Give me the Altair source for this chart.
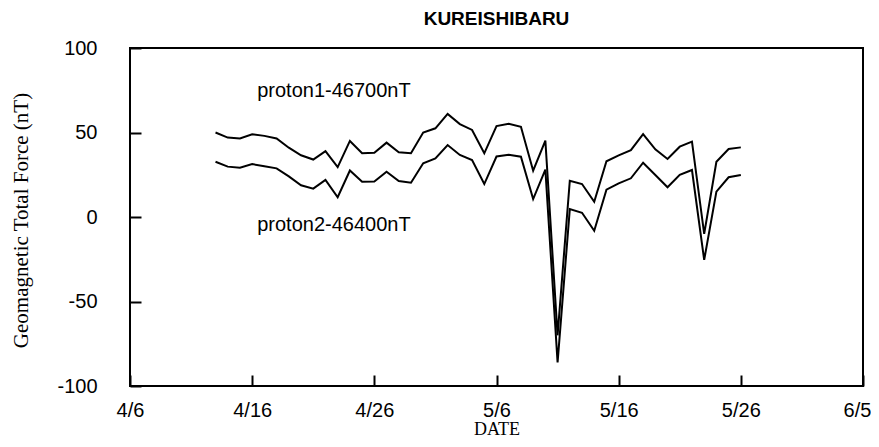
import altair as alt
import pandas as pd

YEAR = 1995

dates = ["4/13", "4/14", "4/15", "4/16", "4/17", "4/18", "4/19", "4/20", "4/21", "4/22",
         "4/23", "4/24", "4/25", "4/26", "4/27", "4/28", "4/29", "4/30",
         "5/1", "5/2", "5/3", "5/4", "5/5", "5/6", "5/7", "5/8", "5/9", "5/10",
         "5/11", "5/12", "5/13", "5/14", "5/15", "5/16", "5/17", "5/18", "5/19", "5/20",
         "5/21", "5/22", "5/23", "5/24", "5/25", "5/26"]

proton1 = [50, 47, 46.5, 49, 48, 46.5, 41, 36.5, 34, 39,
           29.5, 45, 37.7, 38, 44, 38.3, 37.7, 50,
           52.5, 61, 55, 51.5, 37.7, 53.8, 55.2, 53.4, 27.4, 45.2,
           -70, 21.5, 19.5, 9, 33, 36.5, 39.6, 49, 40, 34.3,
           41.6, 44.6, -10, 32.7, 40.2, 41.2]

proton2 = [32.7, 29.8, 29.2, 31.3, 30, 28.8, 24, 18.8, 16.8, 22,
           11.7, 27.5, 20.9, 21, 26.8, 21.3, 20.3, 31.8,
           34.7, 42.6, 36.7, 33.7, 19.5, 35.8, 36.8, 35.7, 10.6, 28,
           -86, 4.7, 2.5, -8.1, 16.2, 19.9, 22.9, 32.1, 24.9, 17.6,
           24.9, 27.8, -25.4, 15, 23.5, 24.9]

series_names = ["proton1", "proton2"]
tick_dates = ["4/6", "4/16", "4/26", "5/6", "5/16", "5/26", "6/5"]
y_ticks = [-100, -50, 0, 50, 100]

label_texts = ["proton1-46700nT", "proton2-46400nT"]
label_dates = ["4/16", "4/16"]
label_values = [71, -8]

W, H = 733, 338


def iso(md):
    m, d = md.split("/")
    return f"{YEAR}-{int(m):02d}-{int(d):02d}"


def dt(md):
    m, d = md.split("/")
    return alt.DateTime(year=YEAR, month=int(m), date=int(d), utc=True)


df = pd.DataFrame({
    "date": [iso(d) for d in dates] * 2,
    "value": proton1 + proton2,
    "series": [series_names[0]] * len(dates) + [series_names[1]] * len(dates),
})

ann = pd.DataFrame({
    "date": [iso(d) for d in label_dates],
    "value": label_values,
    "text": label_texts,
})

x_vals = [dt(t) for t in tick_dates]
xscale = alt.Scale(type="utc", domain=[dt(tick_dates[0]), dt(tick_dates[-1])])
yscale = alt.Scale(domain=[y_ticks[0], y_ticks[-1]])

SANS = "Liberation Sans"
SERIF = "Liberation Serif"

last_label_test = "datum.label == '" + tick_dates[-1] + "'"

lines = alt.Chart(df).mark_line(color="black", strokeWidth=2).encode(
    x=alt.X("date:T", scale=xscale, axis=alt.Axis(
        orient="bottom", values=x_vals, format="%-m/%-d", ticks=False, domain=False,
        grid=False, labelFlush=False, labelFont=SANS, labelFontSize=20,
        labelColor="black", labelPadding=14,
        labelOffset={"condition": {"test": last_label_test, "value": -6}, "value": 0},
        title="DATE", titleFont=SERIF, titleFontSize=18, titleFontWeight="normal",
        titleColor="black", titleBaseline="alphabetic", titleAlign="center",
        titleX=W / 2, titleY=48)),
    y=alt.Y("value:Q", scale=yscale, axis=alt.Axis(
        orient="left", values=y_ticks, ticks=False, domain=False, grid=False,
        labelExpr="toString(datum.value)",
        labelFont=SANS, labelFontSize=20, labelColor="black", labelPadding=33,
        title="Geomagnetic Total Force (nT)", titleFont=SERIF, titleFontSize=21,
        titleFontWeight="normal", titleColor="black", titleAngle=270,
        titleAlign="center", titleBaseline="middle", titleX=-109, titleY=172)),
    detail="series:N",
)

tick_layer = alt.Chart(df).mark_line(opacity=0).encode(
    x=alt.X("date:T", scale=xscale, axis=alt.Axis(
        orient="top", offset=-H, values=x_vals, labels=False, domain=False,
        grid=False, ticks=True, tickSize=11, tickWidth=2, tickColor="black",
        title=None)),
    y=alt.Y("value:Q", scale=yscale, axis=alt.Axis(
        orient="right", offset=-W, values=y_ticks, labels=False, domain=False,
        grid=False, ticks=True, tickSize=11, tickWidth=2, tickColor="black",
        title=None)),
    detail="series:N",
)

texts = alt.Chart(ann).mark_text(
    align="left", baseline="alphabetic", font=SANS, fontSize=20, color="black", dx=5
).encode(
    x=alt.X("date:T", scale=xscale, axis=None),
    y=alt.Y("value:Q", scale=yscale, axis=None),
    text="text:N",
)

chart = alt.layer(lines, tick_layer, texts).resolve_axis(
    x="independent", y="independent"
).properties(
    width=W,
    height=H,
    title=alt.TitleParams("KUREISHIBARU", font=SANS, fontSize=19, fontWeight="bold",
                          color="black", anchor="middle", offset=9),
    autosize=alt.AutoSizeParams(type="none"),
    padding={"left": 122, "top": 40, "right": 8, "bottom": 53},
    background="white",
).configure_view(stroke="black", strokeWidth=2)

chart.save("out.html", embed_options={"renderer": "svg", "actions": False})
